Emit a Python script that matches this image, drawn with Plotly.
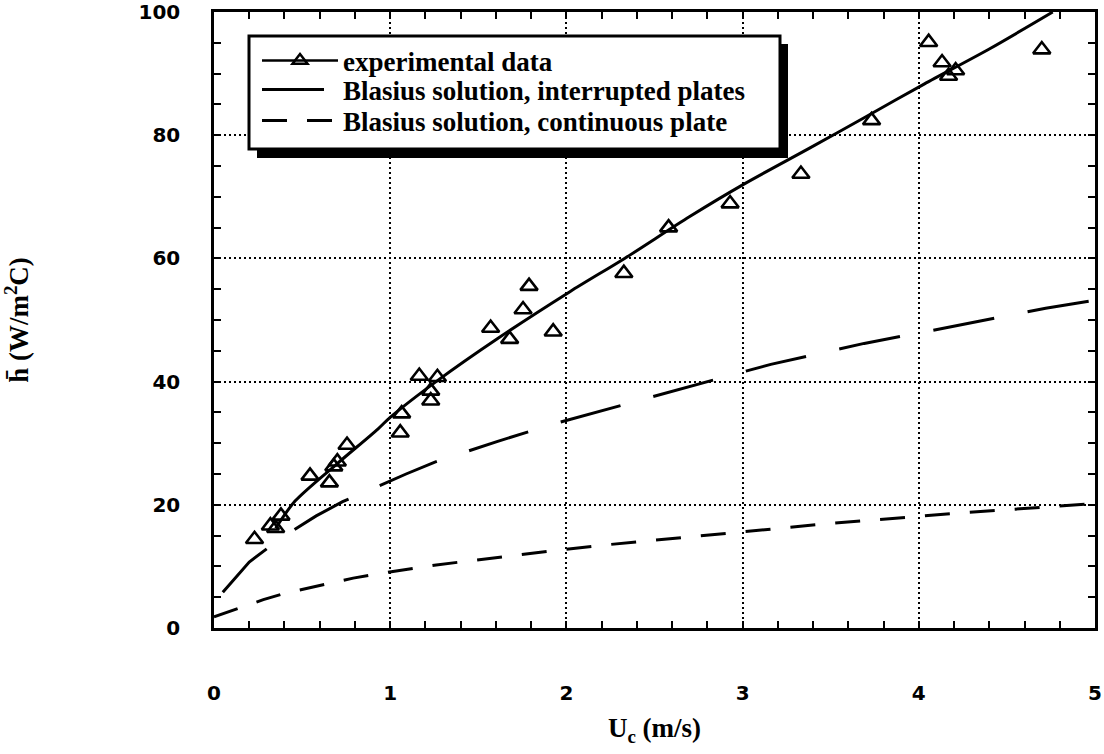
import plotly.graph_objects as go

# ---- data ----
exp_u = [0.23, 0.32, 0.35, 0.38, 0.545, 0.655, 0.68, 0.70, 0.755, 1.057, 1.065, 1.165,
         1.23, 1.23, 1.268, 1.57, 1.678, 1.754, 1.788, 1.925, 2.326, 2.58, 2.929, 3.331,
         3.732, 4.056, 4.132, 4.169, 4.209, 4.698]
exp_h = [14.4, 16.6, 16.2, 18.2, 24.7, 23.6, 26.2, 27.0, 29.7, 31.7, 34.8, 40.9,
         36.9, 38.5, 40.7, 48.7, 46.9, 51.7, 55.5, 48.1, 57.6, 65.0, 68.9, 73.7,
         82.4, 95.1, 91.8, 89.6, 90.5, 93.9]

fit_u = [0.35, 0.46, 0.70, 0.93, 1.00, 1.27, 1.61, 2.02, 2.33, 2.70, 3.01, 3.38, 3.70,
         4.03, 4.40, 4.76]
fit_h = [16.2, 20.6, 26.7, 32.3, 34.2, 40.2, 47.0, 54.6, 60.0, 66.8, 72.1, 77.9, 83.0,
         88.3, 94.0, 100.0]

interrupted_u = [0.05, 0.20, 0.38, 0.58, 0.73, 0.91, 1.09, 1.25, 1.43, 1.61, 1.95, 2.19,
                 2.46, 2.65, 2.98, 3.16, 3.50, 3.69, 4.02, 4.21, 4.54, 4.72, 5.00]
interrupted_h = [5.8, 10.7, 14.6, 18.2, 20.5, 22.8, 25.0, 26.9, 28.6, 30.3, 33.3, 35.2,
                 37.3, 38.9, 41.4, 42.8, 45.0, 46.2, 48.0, 49.1, 50.9, 51.9, 53.2]

continuous_u = [0.0, 0.15, 0.28, 0.41, 0.53, 0.68, 0.79, 0.93, 1.25, 1.50, 1.75, 2.00,
                2.19, 2.48, 2.74, 3.00, 3.22, 3.47, 3.73, 3.98, 4.25, 4.50, 4.75, 5.00]
continuous_h = [1.8, 3.3, 4.6, 5.7, 6.5, 7.4, 8.1, 8.8, 10.2, 11.1, 12.0, 12.8,
                13.4, 14.2, 14.9, 15.7, 16.2, 16.9, 17.5, 18.1, 18.7, 19.2, 19.7, 20.2]

x_ticks = [0, 1, 2, 3, 4, 5]
y_ticks = [0, 20, 40, 60, 80, 100]
legend_names = ["experimental data",
                "Blasius solution, interrupted plates",
                "Blasius solution, continuous plate"]

W, H = 1104, 754
ML, MR, MT, MB = 214, 9, 12, 126
PW, PH = W - ML - MR, H - MT - MB


def px_to_paper(px, py):
    return (px - ML) / PW, (H - MB - py) / PH


fig = go.Figure()

# legend entry for experimental data (line + triangle)
fig.add_trace(go.Scatter(x=[None], y=[None], mode="lines+markers", name=legend_names[0],
                         legend="legend",
                         line=dict(color="black", width=2.5),
                         marker=dict(symbol="triangle-up-open", size=13, color="black",
                                     line=dict(width=2.5))))
fig.add_trace(go.Scatter(x=interrupted_u, y=interrupted_h, mode="lines",
                         name=legend_names[1], legend="legend2",
                         line=dict(color="black", width=3, dash="62px,34px")))
fig.add_trace(go.Scatter(x=continuous_u, y=continuous_h, mode="lines",
                         name=legend_names[2], legend="legend3",
                         line=dict(color="black", width=3, dash="25px,20px")))
fig.add_trace(go.Scatter(x=fit_u, y=fit_h, mode="lines", showlegend=False,
                         line=dict(color="black", width=3, shape="spline", smoothing=0.8)))
fig.add_trace(go.Scatter(x=exp_u, y=exp_h, mode="markers", showlegend=False,
                         marker=dict(symbol="triangle-up-open", size=15, color="black",
                                     line=dict(width=2.6, color="black"))))

tickfont = dict(family="DejaVu Sans", size=20, color="black", weight="bold")
titlefont = dict(family="Liberation Serif", size=27, color="black", weight="bold")
axis_common = dict(showline=True, linecolor="black", linewidth=2.5, mirror="allticks",
                   ticks="inside", ticklen=7, tickwidth=2, tickcolor="black",
                   showgrid=True, gridcolor="black", gridwidth=2, griddash="2px,3px",
                   zeroline=False, tickfont=tickfont, ticklabeloverflow="allow")

fig.update_xaxes(range=[0, 5], tickvals=x_ticks, ticktext=[str(v) for v in x_ticks],
                 ticklabelstandoff=45,
                 minor=dict(ticks="inside", ticklen=7, tickwidth=2, tickcolor="black",
                            dtick=0.2, tick0=0, showgrid=False),
                 title=dict(text="U<sub>c</sub> (m/s)", font=titlefont, standoff=15),
                 **axis_common)
fig.update_yaxes(range=[0, 100], tickvals=y_ticks, ticktext=[str(v) for v in y_ticks],
                 ticklabelstandoff=27,
                 minor=dict(ticks="inside", ticklen=7, tickwidth=2, tickcolor="black",
                            dtick=5, tick0=0, showgrid=False),
                 title=dict(text="h\u0304 (W/m<sup>2</sup>C)", font=titlefont, standoff=104),
                 **axis_common)

legfont = dict(family="Liberation Serif", size=27, color="black", weight="bold")
row_y = [61, 90, 121]
leg_common = dict(xanchor="left", yanchor="middle", bgcolor="rgba(0,0,0,0)",
                  borderwidth=0, font=legfont, itemwidth=76)
legends = {}
for key, ry in zip(["legend", "legend2", "legend3"], row_y):
    lx, ly = px_to_paper(257, ry)
    legends[key] = dict(x=lx, y=ly, **leg_common)

fig.update_layout(
    width=W, height=H,
    margin=dict(l=ML, r=MR, t=MT, b=MB, autoexpand=False),
    paper_bgcolor="white", plot_bgcolor="white",
    showlegend=True,
    **legends,
)

# legend frame with drop shadow
sx0, sy0 = px_to_paper(257, 44)
sx1, sy1 = px_to_paper(788, 158)
fig.add_shape(type="rect", xref="paper", yref="paper", x0=sx0, y0=sy1, x1=sx1, y1=sy0,
              fillcolor="black", line=dict(width=0), layer="above")
bx0, by0 = px_to_paper(249, 36)
bx1, by1 = px_to_paper(780, 149)
fig.add_shape(type="rect", xref="paper", yref="paper", x0=bx0, y0=by1, x1=bx1, y1=by0,
              fillcolor="white", line=dict(color="black", width=3), layer="above")

fig.write_html("out.html")
